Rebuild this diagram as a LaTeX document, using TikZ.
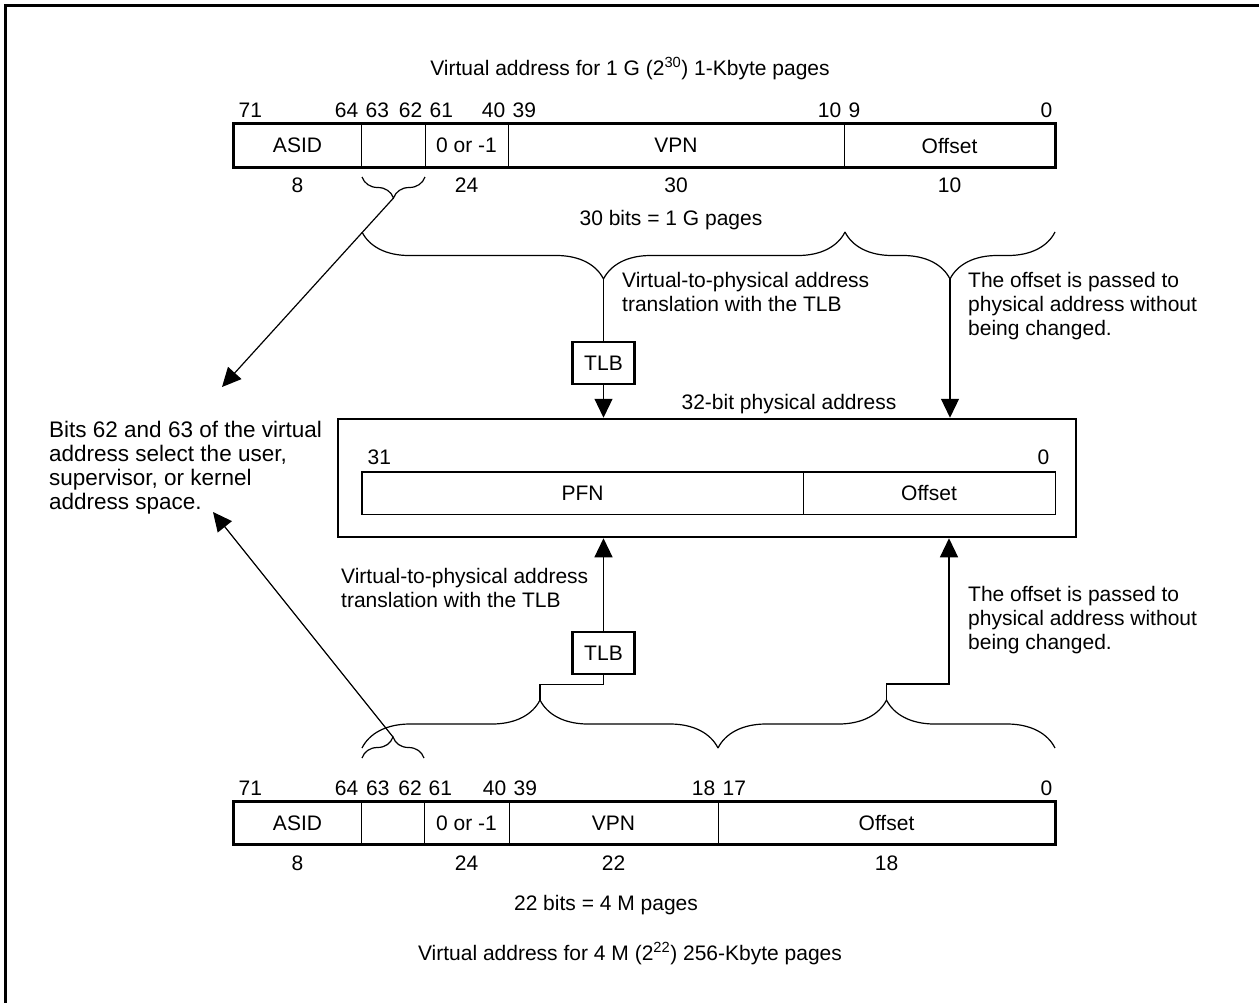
\documentclass[tikz,border=0pt]{standalone}
\usepackage{fontspec}
\setmainfont{Liberation Sans}
\usetikzlibrary{arrows.meta,decorations.pathreplacing,calc,positioning}

\begin{document}
\begin{tikzpicture}[x=1pt,y=-1pt,
    every node/.style={font=\fontsize{21}{24}\selectfont, inner sep=0pt},
    field/.style={draw, line width=1pt, minimum height=43pt},
    reg/.style={line width=2.2pt},
    tlb/.style={draw, line width=2.5pt, minimum width=62pt, minimum height=42pt},
    arr/.style={line width=1.2pt, -{Triangle[width=18pt,length=19pt]}},
    curlyup/.style={decorate, decoration={brace, amplitude=#1}, line width=1.2pt},
    curlydn/.style={decorate, decoration={brace, mirror, amplitude=#1}, line width=1.2pt}]
    \useasboundingbox (0,0) rectangle (1259,1002);
    \draw[line width=3pt] (5,1010) -- (5,5) -- (1265,5);

    % virtual address, 1-Kbyte pages
    \node[anchor=base] (titleA) at (630,75) {Virtual address for 1 G (2\textsuperscript{30}) 1-Kbyte pages};
    \node[field, minimum width=127pt] (asidA) at (297.5,145.5) {ASID};
    \node[field, minimum width=64pt] (spA) at (393,145.5) {};
    \node[field, minimum width=83pt] (sxA) at (466.5,145.5) {0 or -1};
    \node[field, minimum width=336pt] (vpnA) at (676,145.5) {VPN};
    \node[field, minimum width=211pt] (offA) at (949.5,145.5) {Offset};
    \draw[reg] (asidA.north west) rectangle (offA.south east);
    \foreach \f/\hi/\lo in {asidA/71/64, spA/63/62, sxA/61/40, vpnA/39/10, offA/9/0} {
        \node[anchor=base west] at ($(\f.north west)+(5,-6)$) {\hi};
        \node[anchor=base east] at ($(\f.north east)+(-3,-6)$) {\lo};
    }
    \node[below=10pt of asidA] (wasidA) {8};
    \node[below=10pt of sxA] (wsxA) {24};
    \node[below=10pt of vpnA] (wvpnA) {30};
    \node[below=10pt of offA] (woffA) {10};
    \node[anchor=base] (pagesA) at (671,225) {30 bits = 1 G pages};

    \draw[curlydn=21] (362,177) -- (425,177);
    \coordinate (tipS) at (393.5,198);
    \draw[curlydn=47] (362,232) -- (845,232);
    \coordinate (tipA) at (603.5,279);
    \draw[curlydn=47] (845,232) -- (1055,232);
    \coordinate (tipB) at (950,279);

    \node[anchor=north west, align=left] (vtpA) at (622,272) {Virtual-to-physical address\\translation with the TLB};
    \node[anchor=north west, align=left] (keepA) at (968,272) {The offset is passed to\\physical address without\\being changed.};
    \node[tlb] (tlbA) at (603.5,363) {TLB};

    % physical address
    \node[anchor=base] (physlbl) at (789,409) {32-bit physical address};
    \node[draw, line width=2.5pt, minimum width=738pt, minimum height=118pt] (phys) at (707,478) {};
    \node[field, minimum width=441pt, minimum height=42pt] (pfn) at (582.5,493) {PFN};
    \node[field, minimum width=252pt, minimum height=42pt] (offP) at (929,493) {Offset};
    \draw[line width=1.5pt] (pfn.north west) rectangle (offP.south east);
    \node[anchor=base west] at ($(pfn.north west)+(6,-7)$) {31};
    \node[anchor=base east] at ($(offP.north east)+(-6,-7)$) {0};

    \node[anchor=north west, align=left, font=\fontsize{22.5}{24}\selectfont] (bits) at (49,421) {Bits 62 and 63 of the virtual\\address select the user,\\supervisor, or kernel\\address space.};
    \coordinate (bitsUp) at (222,387);
    \coordinate (bitsDn) at (213,512);

    \draw[arr] (tipS) -- (bitsUp);
    \draw[line width=1.2pt] (tipA) -- (tlbA.north);
    \draw[arr] (tlbA.south) -- (tlbA.south |- phys.north);
    \draw[arr] (tipB) -- (tipB |- phys.north);

    % virtual address, 256-Kbyte pages
    \node[anchor=north west, align=left] (vtpB) at (341,568) {Virtual-to-physical address\\translation with the TLB};
    \node[anchor=north west, align=left] (keepB) at (968,586) {The offset is passed to\\physical address without\\being changed.};
    \node[tlb] (tlbB) at (603.5,653) {TLB};

    \draw[curlyup=48] (362,748) -- (718,748);
    \coordinate (tipC) at (540,700);
    \draw[curlyup=48] (718,748) -- (1055,748);
    \coordinate (tipD) at (886.5,700);
    \draw[curlyup=21] (362,758) -- (424,758);
    \coordinate (tipT) at (393,737);
    \coordinate (jD) at (949,684);

    \draw[arr] (tlbB.north) -- (tlbB.north |- phys.south);
    \draw[line width=1.2pt] (tlbB.south) -- ++(0,9) -| (tipC);
    \draw[arr] (tipD) |- (jD) -- (jD |- phys.south);
    \draw[arr] (tipT) -- (bitsDn);

    \node[field, minimum width=127pt, minimum height=42pt] (asidB) at (297.5,823) {ASID};
    \node[field, minimum width=63pt, minimum height=42pt] (spB) at (393,823) {};
    \node[field, minimum width=85pt, minimum height=42pt] (sxB) at (466.5,823) {0 or -1};
    \node[field, minimum width=209pt, minimum height=42pt] (vpnB) at (613.5,823) {VPN};
    \node[field, minimum width=337pt, minimum height=42pt] (offB) at (886.5,823) {Offset};
    \draw[reg] (asidB.north west) rectangle (offB.south east);
    \foreach \f/\hi/\lo in {asidB/71/64, spB/63/62, sxB/61/40, vpnB/39/18, offB/17/0} {
        \node[anchor=base west] at ($(\f.north west)+(5,-6)$) {\hi};
        \node[anchor=base east] at ($(\f.north east)+(-3,-6)$) {\lo};
    }
    \node[below=11pt of asidB] (wasidB) {8};
    \node[below=11pt of sxB] (wsxB) {24};
    \node[below=11pt of vpnB] (wvpnB) {22};
    \node[below=11pt of offB] (woffB) {18};
    \node[anchor=base] (pagesB) at (606,910) {22 bits = 4 M pages};
    \node[anchor=base] (titleB) at (630,960) {Virtual address for 4 M (2\textsuperscript{22}) 256-Kbyte pages};
\end{tikzpicture}
\end{document}
